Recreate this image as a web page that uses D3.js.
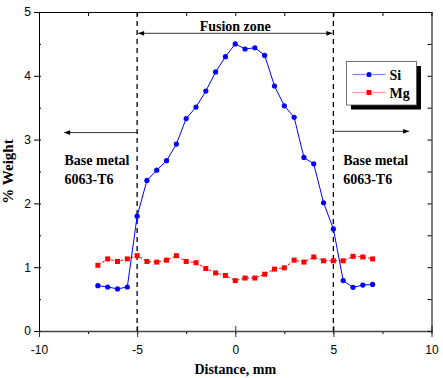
<!DOCTYPE html>
<html>
<head>
<meta charset="utf-8">
<script src="https://cdn.jsdelivr.net/npm/d3@7"></script>
<style>
  body { margin: 0; background: #fff; }
  .tick text { font-family: "Liberation Sans", Arial, sans-serif; font-size: 12px; fill: #000; }
  .lbl { font-family: "Liberation Serif", "Times New Roman", serif; font-weight: bold; font-size: 14px; fill: #000; }
</style>
</head>
<body>
<div id="chart"></div>
<script>
// distance from weld centre (mm)
const distance = [-7, -6.5, -6, -5.5, -5, -4.5, -4, -3.5, -3, -2.5, -2, -1.5, -1, -0.5, 0,
                  0.5, 1, 1.5, 2, 2.5, 3, 3.5, 4, 4.5, 5, 5.5, 6, 6.5, 7];
const si = [0.71, 0.69, 0.66, 0.69, 1.80, 2.36, 2.52, 2.67, 2.93, 3.33, 3.51, 3.76, 4.06, 4.30, 4.50,
            4.42, 4.44, 4.32, 3.84, 3.53, 3.35, 2.72, 2.62, 2.01, 1.60, 0.79, 0.685, 0.72, 0.73];
const mg = [1.03, 1.13, 1.09, 1.13, 1.18, 1.09, 1.08, 1.11, 1.18, 1.09, 1.07, 0.98, 0.91, 0.87, 0.79,
            0.83, 0.83, 0.89, 0.97, 0.99, 1.11, 1.08, 1.16, 1.10, 1.10, 1.10, 1.17, 1.16, 1.13];
const xTicks = [-10, -5, 0, 5, 10];
const yTicks = [0, 1, 2, 3, 4, 5];
const zoneEdges = [-5, 5];

const settings = {
    width: 443,
    height: 378,
    left: 39,
    right: 431.5,
    top: 12,
    bottom: 331,
};

const x = d3.scaleLinear().domain([-10, 10]).range([settings.left, settings.right]);
const y = d3.scaleLinear().domain([0, 5]).range([settings.bottom, settings.top]);

const svg = d3.select("#chart").append("svg")
    .attr("width", settings.width)
    .attr("height", settings.height);

const defs = svg.append("defs");
defs.append("marker")
    .attr("id", "arrow")
    .attr("viewBox", "0 0 10 10")
    .attr("refX", 10).attr("refY", 5)
    .attr("markerWidth", 8).attr("markerHeight", 6)
    .attr("markerUnits", "userSpaceOnUse")
    .attr("orient", "auto-start-reverse")
    .append("path")
    .attr("d", "M0,1 L10,5 L0,9 Z")
    .attr("fill", "#000");

// minor ticks
const minorX = d3.range(-10, 10.01, 2.5);
const minorY = d3.range(0, 5.01, 0.5);

// bottom axis
svg.append("g")
    .attr("transform", `translate(0,${settings.bottom})`)
    .call(d3.axisBottom(x).tickValues(minorX).tickSize(3).tickFormat(""))
    .call(g => g.select(".domain").remove());
const xAxis = svg.append("g")
    .attr("transform", `translate(0,${settings.bottom})`)
    .call(d3.axisBottom(x).tickValues(xTicks).tickSize(6).tickSizeOuter(0).tickPadding(8)
        .tickFormat(d3.format("d")));
xAxis.selectAll(".tick line").attr("y1", -5).attr("stroke", "#333");
xAxis.select(".domain").attr("stroke", "#444").attr("stroke-width", 1.6);
xAxis.selectAll(".tick text").text(d => d < 0 ? "-" + Math.abs(d) : d);

// top axis
svg.append("g")
    .attr("transform", `translate(0,${settings.top})`)
    .call(d3.axisTop(x).tickValues(minorX).tickSize(-4).tickSizeOuter(0).tickFormat(""))
    .select(".domain").attr("stroke", "#000");

// left axis
svg.append("g")
    .attr("transform", `translate(${settings.left},0)`)
    .call(d3.axisLeft(y).tickValues(minorY).tickSize(2).tickFormat(""))
    .call(g => g.selectAll(".tick line").attr("x2", 2))
    .call(g => g.select(".domain").remove());
svg.append("g")
    .attr("transform", `translate(${settings.left},0)`)
    .call(d3.axisLeft(y).tickValues(yTicks).tickSize(5).tickSizeOuter(0).tickPadding(3)
        .tickFormat(d3.format("d")));

// right axis
svg.append("g")
    .attr("transform", `translate(${settings.right},0)`)
    .call(d3.axisRight(y).tickValues(minorY).tickSize(-4).tickSizeOuter(0).tickFormat(""));

// dashed boundary lines of the fusion zone
svg.selectAll(".edge")
    .data(zoneEdges)
    .join("line")
    .attr("x1", d => x(d)).attr("x2", d => x(d))
    .attr("y1", y(5)).attr("y2", y(0))
    .attr("stroke", "#000")
    .attr("stroke-width", 1.3)
    .attr("stroke-dasharray", "5,4");

// annotations
svg.append("line")
    .attr("x1", x(-4.95)).attr("x2", x(4.95))
    .attr("y1", y(4.666)).attr("y2", y(4.666))
    .attr("stroke", "#000").attr("stroke-width", 0.8)
    .attr("marker-start", "url(#arrow)")
    .attr("marker-end", "url(#arrow)");
svg.append("text").attr("class", "lbl")
    .attr("x", x(0)).attr("y", y(4.71))
    .attr("text-anchor", "middle")
    .text("Fusion zone");

svg.append("line")
    .attr("x1", x(-5)).attr("x2", x(-8.72))
    .attr("y1", y(3.11)).attr("y2", y(3.11))
    .attr("stroke", "#000").attr("stroke-width", 0.8)
    .attr("marker-end", "url(#arrow)");
svg.append("line")
    .attr("x1", x(5.05)).attr("x2", x(8.86))
    .attr("y1", y(3.13)).attr("y2", y(3.13))
    .attr("stroke", "#000").attr("stroke-width", 0.8)
    .attr("marker-end", "url(#arrow)");

[[-8.7], [5.5]].forEach(([px]) => {
    const t = svg.append("text").attr("class", "lbl")
        .attr("x", x(px)).attr("y", y(2.6));
    t.append("tspan").attr("x", x(px)).text("Base metal");
    t.append("tspan").attr("x", x(px)).attr("dy", 19).text("6063-T6");
});

// series
const line = d3.line().x(d => x(d[0])).y(d => y(d[1]));
const siData = distance.map((d, i) => [d, si[i]]);
const mgData = distance.map((d, i) => [d, mg[i]]);

svg.append("path").datum(mgData)
    .attr("d", line).attr("fill", "none")
    .attr("stroke", "#ff0000").attr("stroke-width", 1)
    .attr("stroke-dasharray", "3,2");
svg.selectAll(".mg").data(mgData).join("rect")
    .attr("x", d => x(d[0]) - 2.5).attr("y", d => y(d[1]) - 2.5)
    .attr("width", 5).attr("height", 5)
    .attr("fill", "#ff0000");

svg.append("path").datum(siData)
    .attr("d", line).attr("fill", "none")
    .attr("stroke", "#0000ff").attr("stroke-width", 1);
svg.selectAll(".si").data(siData).join("circle")
    .attr("cx", d => x(d[0])).attr("cy", d => y(d[1]))
    .attr("r", 2.6)
    .attr("fill", "#0000ff");

// axis titles
svg.append("text").attr("class", "lbl")
    .attr("x", x(0)).attr("y", 374)
    .attr("text-anchor", "middle")
    .text("Distance, mm");
svg.append("text").attr("class", "lbl")
    .attr("transform", `translate(13,${(settings.top + settings.bottom) / 2}) rotate(-90)`)
    .attr("text-anchor", "middle")
    .style("font-size", "15px")
    .text("% Weight");

// legend
const legend = svg.append("g").attr("transform", "translate(346.5,61.5)");
legend.append("rect")
    .attr("x", 4.5).attr("y", 4.5).attr("width", 70).attr("height", 43.5)
    .attr("fill", "#000");
legend.append("rect")
    .attr("width", 70).attr("height", 43.5)
    .attr("fill", "#fff").attr("stroke", "#555").attr("stroke-width", 0.8);
const entries = [
    { name: "Si", color: "#0000ff", light: "#8080ff", shape: "circle" },
    { name: "Mg", color: "#ff0000", light: "#ff9a9a", shape: "square" },
];
entries.forEach((e, i) => {
    const cy = 13 + i * 18;
    const g = legend.append("g").attr("transform", `translate(0,${cy})`);
    g.append("line").attr("x1", 6).attr("x2", 19).attr("stroke", e.light).attr("stroke-width", 1.2);
    g.append("line").attr("x1", 26).attr("x2", 39).attr("stroke", e.light).attr("stroke-width", 1.2);
    if (e.shape === "circle") {
        g.append("circle").attr("cx", 22.5).attr("r", 2.6).attr("fill", e.color);
    } else {
        g.append("rect").attr("x", 20).attr("y", -2.5).attr("width", 5).attr("height", 5).attr("fill", e.color);
    }
    g.append("text").attr("class", "lbl").attr("x", 43).attr("y", 5).text(e.name);
});
</script>
</body>
</html>
